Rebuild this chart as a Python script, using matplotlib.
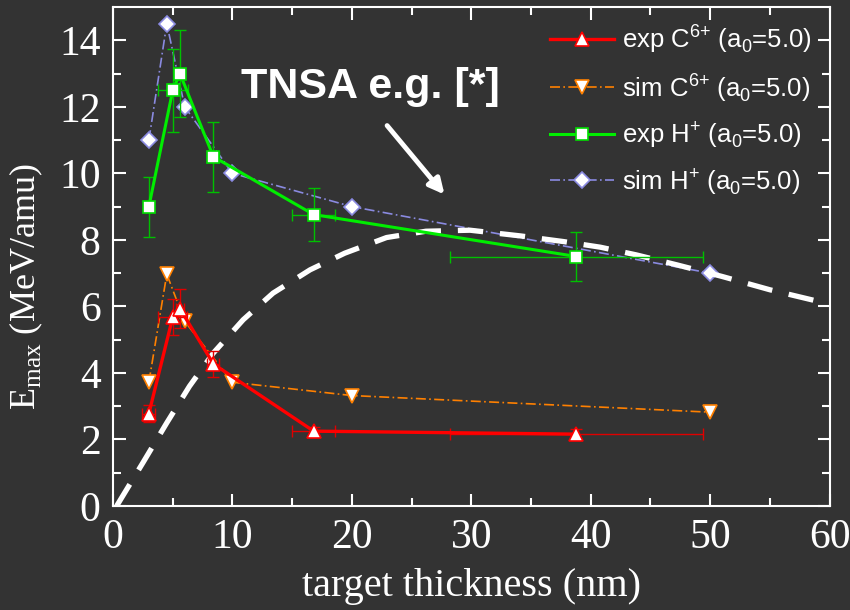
import numpy as np
import matplotlib
matplotlib.use('Agg')
import matplotlib.pyplot as plt

# Data
exp_c_x = [3.0, 5.0, 5.6, 8.4, 16.8, 38.8]
exp_c_y = [2.78, 5.68, 5.93, 4.27, 2.25, 2.16]
exp_c_yerr = [0.27, 0.55, 0.58, 0.4, 0.12, 0.15]
exp_c_xerr = [0.55, 1.2, 0.3, 0.5, 1.8, 10.6]

sim_c_x = [3.0, 4.5, 6.0, 10.0, 20.0, 50.0]
sim_c_y = [3.72, 6.97, 5.55, 3.72, 3.32, 2.82]

exp_h_x = [3.0, 5.0, 5.6, 8.4, 16.8, 38.8]
exp_h_y = [9.0, 12.5, 13.0, 10.5, 8.76, 7.5]
exp_h_yerr = [0.9, 1.25, 1.31, 1.05, 0.8, 0.75]
exp_h_xerr = [0.2, 1.25, 0.3, 0.5, 1.8, 10.6]

sim_h_x = [3.0, 4.5, 6.0, 10.0, 20.0, 50.0]
sim_h_y = [11.0, 14.5, 12.0, 10.0, 9.0, 7.0]

tnsa_x = [0.3, 2.5, 4.5, 6.4, 8.4, 10.9, 13.4, 16.5, 19.4, 22.9, 26.2, 29.9,
          34.1, 37.7, 40.8, 43.8, 47.2, 51.0, 55.0, 60.0]
tnsa_y = [0.0, 1.3, 2.5, 3.6, 4.6, 5.6, 6.4, 7.1, 7.6, 8.07, 8.26, 8.29,
          8.12, 7.95, 7.78, 7.55, 7.25, 6.9, 6.5, 6.07]

bg = '#333333'
plt.rcParams['mathtext.fontset'] = 'custom'
plt.rcParams['mathtext.rm'] = 'Liberation Serif'
plt.rcParams['mathtext.sf'] = 'Liberation Sans'

c6 = r'C$^{\mathsf{6}\mathsf{+}}$'
hp = r'H$^{\mathsf{+}}$'
a0 = r'(a$_{\mathsf{0}}$=5.0)'

fig = plt.figure(figsize=(8.5, 6.1), dpi=100, facecolor=bg)
ax = fig.add_axes([0.133, 0.1705, 0.843, 0.818], facecolor=bg)

# simulation lines
ax.plot(sim_h_x, sim_h_y, color='#8a8ae0', lw=1.2, ls=(0, (6, 2, 1, 2)),
        marker='D', ms=8, mfc='white', mec='#8a8ae0', mew=1.2,
        label='sim ' + hp + ' ' + a0, zorder=3)
ax.plot(sim_c_x, sim_c_y, color='#ff8000', lw=1.2, ls=(0, (6, 2, 1, 2)),
        marker='v', ms=10, mfc='white', mec='#ff8000', mew=1.2,
        label='sim ' + c6 + ' ' + a0, zorder=3)

# TNSA curve
ax.plot(tnsa_x, tnsa_y, color='white', lw=3.8, ls=(0, (4.8, 3.2)), zorder=4)

# experimental data with error bars
ax.errorbar(exp_h_x, exp_h_y, yerr=exp_h_yerr, xerr=exp_h_xerr, fmt='none',
            ecolor='#00c000', elinewidth=1.0, capsize=4, capthick=1.0, zorder=5)
ax.plot(exp_h_x, exp_h_y, color='#00ee00', lw=2.2, marker='s', ms=9,
        mfc='white', mec='#00dd00', mew=1.2,
        label='exp ' + hp + ' ' + a0, zorder=6)
ax.errorbar(exp_c_x, exp_c_y, yerr=exp_c_yerr, xerr=exp_c_xerr, fmt='none',
            ecolor='#e00000', elinewidth=1.0, capsize=4, capthick=1.0, zorder=5)
ax.plot(exp_c_x, exp_c_y, color='#ff0000', lw=2.4, marker='^', ms=10,
        mfc='white', mec='#ff0000', mew=1.2,
        label='exp ' + c6 + ' ' + a0, zorder=6)

ax.set_xlim(0, 60)
ax.set_ylim(0, 15)
ax.set_xticks(np.arange(0, 61, 10))
ax.set_xticks(np.arange(0, 61, 5), minor=True)
ax.set_yticks(np.arange(0, 15, 2))
ax.set_yticks(np.arange(0, 15, 1), minor=True)
ax.tick_params(which='both', direction='in', colors='white', top=True, right=True,
               labeltop=False, labelright=False, width=1.5)
ax.tick_params(which='major', length=9, labelsize=30, pad=9)
ax.tick_params(which='minor', length=6)
for lab in ax.get_xticklabels() + ax.get_yticklabels():
    lab.set_family('Liberation Serif')
for sp in ax.spines.values():
    sp.set_color('white')
    sp.set_linewidth(1.5)

ax.set_xlabel('target thickness (nm)', family='Liberation Serif', fontsize=29,
              color='white', labelpad=8)
ax.set_ylabel(r'E$_{\mathrm{max}}$ (MeV/amu)', family='Liberation Serif',
              fontsize=26, color='white')
ax.yaxis.set_label_coords(-0.095, 0.44)

ax.text(10.7, 12.6, 'TNSA e.g. [*]', family='Liberation Sans', weight='bold',
        fontsize=31, color='white', ha='left', va='center')
ax.annotate('', xy=(27.9, 9.3), xytext=(22.8, 11.5),
            arrowprops=dict(arrowstyle='-|>,head_length=0.9,head_width=0.45',
                            color='white', lw=3.5))

handles, labels = ax.get_legend_handles_labels()
order = [3, 1, 2, 0]
leg = ax.legend([handles[i] for i in order], [labels[i] for i in order],
                loc='upper left', bbox_to_anchor=(0.585, 1.005), frameon=False,
                prop={'family': 'Liberation Sans', 'size': 18.5},
                handlelength=2.5, handletextpad=0.3, labelspacing=0.6,
                borderaxespad=0.3, numpoints=1)
for t in leg.get_texts():
    t.set_color('white')

fig.savefig('out.png', dpi=100, facecolor=bg)
